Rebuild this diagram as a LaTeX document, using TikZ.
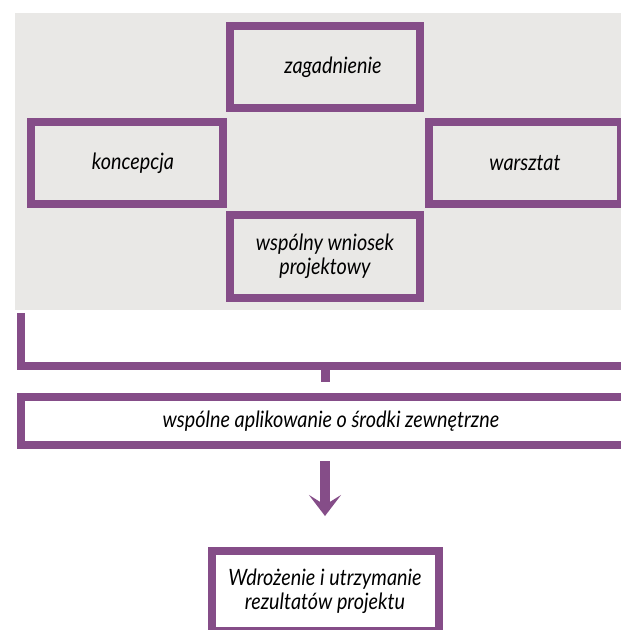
\documentclass[tikz,border=0pt]{standalone}
\usepackage{fontspec}
\setmainfont{Lato}[FakeStretch=0.88]
\usetikzlibrary{arrows.meta,positioning}
\definecolor{frame}{HTML}{854D88}
\definecolor{panel}{HTML}{E9E8E6}

\begin{document}
\begin{tikzpicture}[
    x=1pt,y=-1pt,
    box/.style={draw=frame, line width=8pt, inner sep=0pt, align=center,
      font=\fontsize{22.5}{24}\selectfont\itshape},
    link/.style={draw=frame, line width=9pt},
    ]
    \useasboundingbox (0,0) rectangle (621,630);
    \clip (0,0) rectangle (621,630);
    \fill[panel] (15,13) rectangle (621,310);

    \node at(325,67) [box, minimum width=190pt, minimum height=82pt](zag){\hspace*{16pt}zagadnienie};
    \node at(127,163) [box, minimum width=192pt, minimum height=82pt](konc){\hspace*{12pt}koncepcja};
    \node at(525,163) [box, minimum width=192pt, minimum height=82pt](warsz){warsztat};
    \node at(325,256.5) [box, minimum width=190pt, minimum height=83pt](wsp){wspólny wniosek\\projektowy};

    \node at(323,421) [box, fill=white, minimum width=604pt, minimum height=48pt](apl){\hspace*{16pt}wspólne aplikowanie o środki zewnętrzne};
    \node at(325,591) [box, fill=white, minimum width=227pt, minimum height=80pt](fin){Wdrożenie i utrzymanie\\rezultatów projektu};

    \coordinate (bl) at (21,313);
    \coordinate (br) at (630,365.5);
    \draw[draw=frame, line width=8pt] (bl) |- (br);
    \draw[link] (wsp.center |- br) -- ([yshift=11pt] wsp.center |- apl.north);

    \draw[link, line width=9.5pt, -{Stealth[width=32pt,length=21pt,inset=10pt]}, shorten <=12pt, shorten >=31pt] (fin.north |- apl.south) -- (fin.north);
\end{tikzpicture}
\end{document}
